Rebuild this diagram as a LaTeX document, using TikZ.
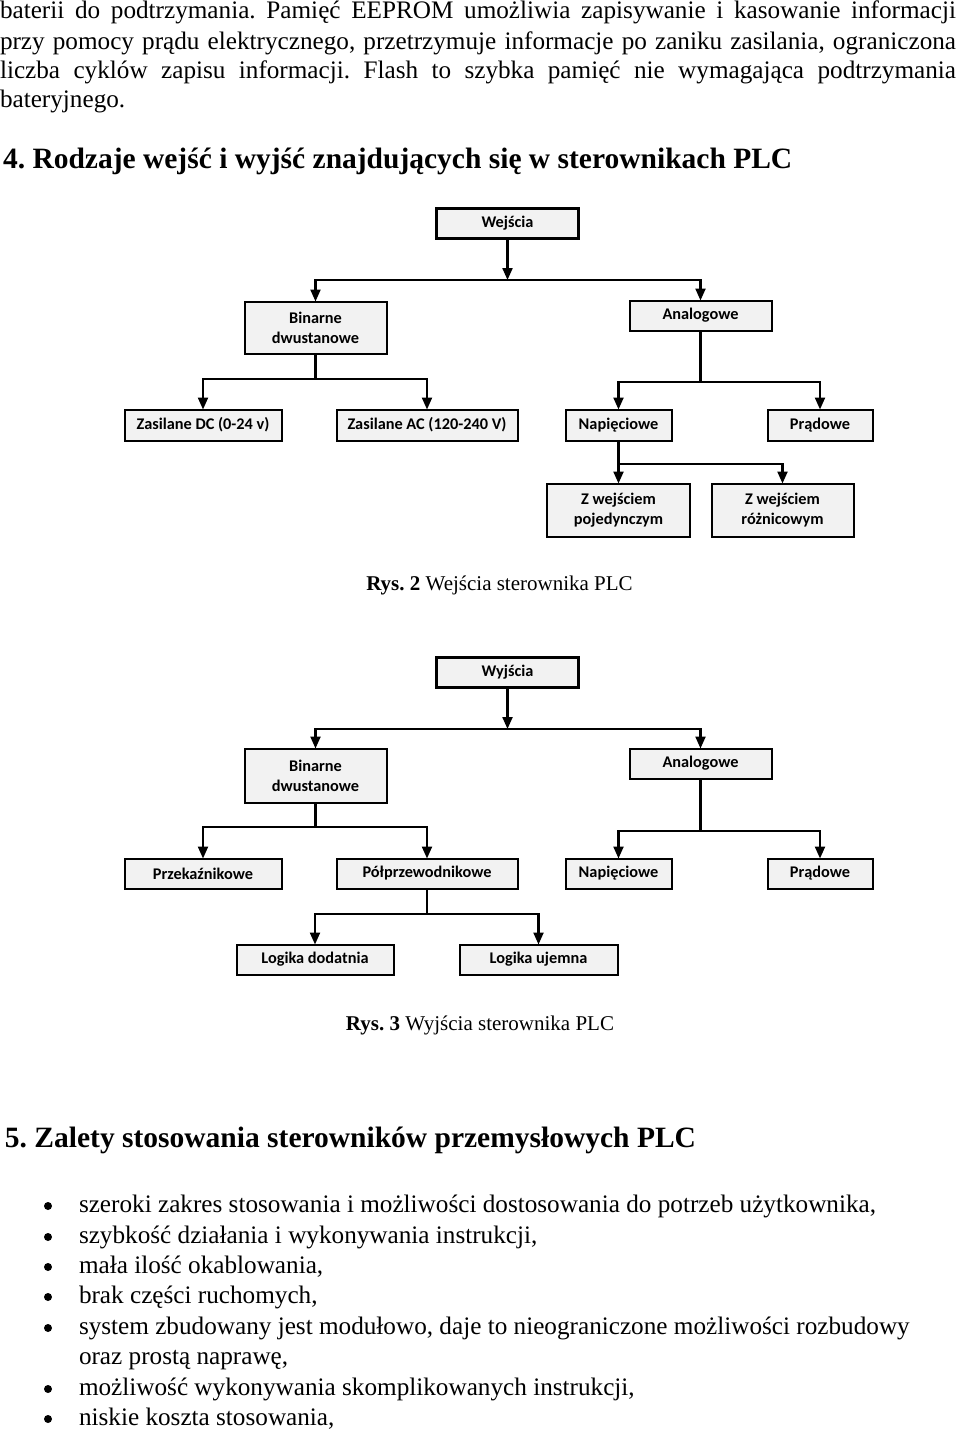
\documentclass[tikz,border=0pt]{standalone}
\usepackage{fontspec}
\setmainfont{Liberation Serif}
\newfontfamily\diagfont{Carlito}
\usetikzlibrary{arrows.meta}
\definecolor{boxgray}{HTML}{F2F2F2}
\begin{document}
\frenchspacing
\begin{tikzpicture}[x=1pt,y=-1pt,
  every node/.style={inner sep=0pt, outer sep=0pt},
  box/.style={draw=black, line width=2pt, fill=boxgray, font=\diagfont\bfseries\fontsize{16.3}{20}\selectfont, align=center, inner sep=2pt},
  topbox/.style={box, line width=3.2pt},
  conn/.style={line width=2.2pt, draw=black},
  arr/.style={conn, -{Triangle[length=12pt,width=10pt]}},
  para/.style={anchor=base west, font=\fontsize{25.2}{30}\selectfont},
  head/.style={anchor=base west, font=\bfseries\fontsize{29.5}{34}\selectfont},
  captext/.style={anchor=base, font=\fontsize{21}{25}\selectfont},
  dot/.style={fill=black}
]
\useasboundingbox (0,0) rectangle (960,1432);

% top paragraph
\node[para] (p1) at (0,19) {\makebox[956pt][s]{baterii do podtrzymania. Pamięć EEPROM umożliwia zapisywanie i kasowanie informacji}};
\node[para] (p2) at (0,49) {\makebox[956pt][s]{przy pomocy prądu elektrycznego, przetrzymuje informacje po zaniku zasilania, ograniczona}};
\node[para] (p3) at (0,78) {\makebox[956pt][s]{liczba cyklów zapisu informacji. Flash to szybka pamięć nie wymagająca podtrzymania}};
\node[para] (p4) at (0,107) {bateryjnego.};

\node[head] (h4) at (3,168) {4. Rodzaje wejść i wyjść znajdujących się w sterownikach PLC};

% diagram 1
\node[topbox, minimum width=142pt, minimum height=30pt] (wej) at (507.5,223.5) {Wejścia};
\node[box, minimum width=142pt, minimum height=52pt] (bin) at (315.5,327.5) {Binarne\\dwustanowe};
\node[box, minimum width=142pt, minimum height=30pt] (ana) at (700.5,315.5) {Analogowe};
\node[box, minimum width=157pt, minimum height=31pt] (dc) at (203,425) {Zasilane DC (0-24 v)};
\node[box, minimum width=181pt, minimum height=31pt] (ac) at (427,425) {Zasilane AC (120-240 V)};
\node[box, minimum width=106pt, minimum height=31pt] (nap) at (618.5,425) {Napięciowe};
\node[box, minimum width=105pt, minimum height=31pt] (pra) at (820,425) {Prądowe};
\node[box, minimum width=143pt, minimum height=53pt] (zpo) at (618.5,510) {Z wejściem\\pojedynczym};
\node[box, minimum width=142pt, minimum height=53pt] (zro) at (782.5,510) {Z wejściem\\różnicowym};

\coordinate (j0) at (507.5,280);
\coordinate (j1) at (315.5,379);
\coordinate (j2) at (700.5,382);
\coordinate (j3) at (618.5,464);
\draw[arr] (wej.south) -- (j0);
\draw[arr] (j0) -| (bin.north);
\draw[arr] (j0) -| (ana.north);
\draw[conn] (bin.south) -- (j1);
\draw[arr] (j1) -| (dc.north);
\draw[arr] (j1) -| (ac.north);
\draw[conn] (ana.south) -- (j2);
\draw[arr] (j2) -| (nap.north);
\draw[arr] (j2) -| (pra.north);
\draw[conn] (nap.south) -- (j3);
\draw[arr] (j3) -| (zpo.north);
\draw[arr] (j3) -| (zro.north);

\node[captext] (c2) at (499.5,590) {\textbf{Rys. 2} Wejścia sterownika PLC};

% diagram 2
\node[topbox, minimum width=142pt, minimum height=30pt] (wyj) at (507.5,672.5) {Wyjścia};
\node[box, minimum width=142pt, minimum height=54pt] (bin2) at (315.5,775.5) {Binarne\\dwustanowe};
\node[box, minimum width=142pt, minimum height=30pt] (ana2) at (700.5,763.5) {Analogowe};
\node[box, minimum width=157pt, minimum height=30pt] (prz) at (203,873.5) {Przekaźnikowe};
\node[box, minimum width=181pt, minimum height=30pt] (pol) at (427,873.5) {Półprzewodnikowe};
\node[box, minimum width=106pt, minimum height=30pt] (nap2) at (618.5,873.5) {Napięciowe};
\node[box, minimum width=105pt, minimum height=30pt] (pra2) at (820,873.5) {Prądowe};
\node[box, minimum width=157pt, minimum height=30pt] (ldo) at (315,959.5) {Logika dodatnia};
\node[box, minimum width=158pt, minimum height=30pt] (luj) at (538.5,959.5) {Logika ujemna};

\coordinate (k0) at (507.5,729);
\coordinate (k1) at (315.5,827);
\coordinate (k2) at (700.5,831);
\coordinate (k3) at (427,914);
\draw[arr] (wyj.south) -- (k0);
\draw[arr] (k0) -| (bin2.north);
\draw[arr] (k0) -| (ana2.north);
\draw[conn] (bin2.south) -- (k1);
\draw[arr] (k1) -| (prz.north);
\draw[arr] (k1) -| (pol.north);
\draw[conn] (ana2.south) -- (k2);
\draw[arr] (k2) -| (nap2.north);
\draw[arr] (k2) -| (pra2.north);
\draw[conn] (pol.south) -- (k3);
\draw[arr] (k3) -| (ldo.north);
\draw[arr] (k3) -| (luj.north);

\node[captext] (c3) at (480,1030) {\textbf{Rys. 3} Wyjścia sterownika PLC};

% section 5
\node[head] (h5) at (5,1147) {5. Zalety stosowania sterowników przemysłowych PLC};

\fill[dot] (48,1206) circle[radius=4];
\node[para] (b1) at (79,1212) {szeroki zakres stosowania i możliwości dostosowania do potrzeb użytkownika,};
\fill[dot] (48,1237) circle[radius=4];
\node[para] (b2) at (79,1243) {szybkość działania i wykonywania instrukcji,};
\fill[dot] (48,1267) circle[radius=4];
\node[para] (b3) at (79,1273) {mała ilość okablowania,};
\fill[dot] (48,1297) circle[radius=4];
\node[para] (b4) at (79,1303) {brak części ruchomych,};
\fill[dot] (48,1328) circle[radius=4];
\node[para] (b5) at (79,1334) {system zbudowany jest modułowo, daje to nieograniczone możliwości rozbudowy};
\node[para] (b6) at (79,1364) {oraz prostą naprawę,};
\fill[dot] (48,1389) circle[radius=4];
\node[para] (b7) at (79,1395) {możliwość wykonywania skomplikowanych instrukcji,};
\fill[dot] (48,1419) circle[radius=4];
\node[para] (b8) at (79,1425) {niskie koszta stosowania,};
\end{tikzpicture}
\end{document}
